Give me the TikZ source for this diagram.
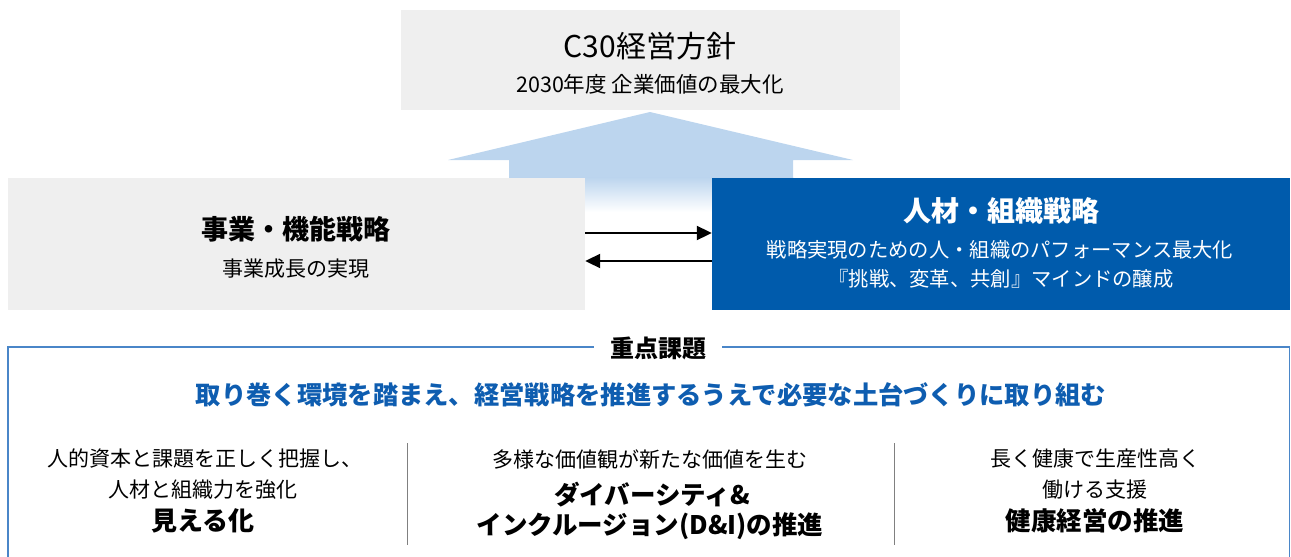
\documentclass[tikz,border=0pt]{standalone}
\usepackage{fontspec}
\setmainfont{Noto Sans CJK JP}
\usetikzlibrary{arrows.meta,calc}
\definecolor{boxgray}{HTML}{EFEFEF}
\definecolor{deepblue}{HTML}{005BAC}
\definecolor{paleblue}{HTML}{BCD5EE}
\definecolor{framecol}{HTML}{4A86C8}
\definecolor{textblue}{HTML}{0E5DB0}
\definecolor{divgray}{HTML}{808080}
\newcommand{\fs}[1]{\fontsize{#1}{#1}\selectfont}
\tikzset{
  graybox/.style={fill=boxgray, draw=none, inner sep=0pt},
  bluebox/.style={fill=deepblue, draw=none, inner sep=0pt},
  txt/.style={inner sep=0pt, anchor=center, align=center},
  linkarrow/.style={line width=2pt, -{Triangle[length=15pt,width=14pt]}},
}
\begin{document}
\begin{tikzpicture}[x=1pt,y=-1pt]
\useasboundingbox (0,0) rectangle (1291,557);
% big up arrow
\fill[paleblue] (509,178) -- (509,160) -- (448,160) -- (650,112) -- (853,160) -- (793,160) -- (793,178) -- cycle;
\shade[top color=paleblue, bottom color=white] (509,177.5) rectangle (793,212);
% top box
\node[graybox, minimum width=499pt, minimum height=100pt] (top) at (650.5,60) {};
\node[txt, font=\fs{30}] (toptitle) at (650,46) {C30経営方針};
\node[txt, font=\fs{21.5}] (topsub) at (650,84) {2030年度 企業価値の最大化};
% left box
\node[graybox, minimum width=577pt, minimum height=132pt] (L) at (296.5,244) {};
\node[txt, font=\bfseries\fs{27}] (Ltitle) at (296,229) {事業・機能戦略};
\node[txt, font=\fs{21}] (Lsub) at (296,269) {事業成長の実現};
% right box
\node[bluebox, minimum width=578pt, minimum height=132pt] (R) at (1001,244) {};
\node[txt, font=\bfseries\fs{28}, text=white] (Rtitle) at (1001,211) {人材・組織戦略};
\node[txt, font=\fs{20.3}, text=white] (Rsub1) at (1000,250) {戦略実現のための人・組織のパフォーマンス最大化};
\node[txt, font=\fs{20.3}, text=white] (Rsub2) at (1001,279) {『挑戦、変革、共創』マインドの醸成};
% link arrows
\draw[linkarrow] ([yshift=11pt]L.east) -- ([yshift=11pt]R.west);
\draw[linkarrow] ([yshift=-17pt]R.west) -- ([yshift=-17pt]L.east);
% bottom frame
\begin{scope}
\clip (0,0) rectangle (1291,557);
\draw[framecol, line width=1.2pt] (8,347) rectangle (1289.5,600);
\end{scope}
\node[txt, fill=white, inner xsep=16pt, inner ysep=4pt, font=\bfseries\fs{24}] (focus) at (658,348) {重点課題};
\node[txt, font=\bfseries\fs{25.3}, text=textblue] (lead) at (651,395) {取り巻く環境を踏まえ、経営戦略を推進するうえで必要な土台づくりに取り組む};
% dividers
\coordinate (d1t) at (407,443); \coordinate (d1b) at (407,545);
\coordinate (d2t) at (894,443); \coordinate (d2b) at (894,545);
\draw[divgray, line width=1pt] (d1t) -- (d1b);
\draw[divgray, line width=1pt] (d2t) -- (d2b);
% column 1
\node[txt, font=\fs{21}] (c1a) at (205,459) {人的資本と課題を正しく把握し、};
\node[txt, font=\fs{21}] (c1b) at (203,490) {人材と組織力を強化};
\node[txt, font=\bfseries\fs{26}] (c1c) at (203,521) {見える化};
% column 2
\node[txt, font=\fs{21}] (c2a) at (650,459) {多様な価値観が新たな価値を生む};
\node[txt, font=\bfseries\fs{25.5}] (c2b) at (652,495) {ダイバーシティ\&};
\node[txt, font=\bfseries\fs{25.5}] (c2c) at (650,526) {インクルージョン(D\&I)の推進};
% column 3
\node[txt, font=\fs{21}] (c3a) at (1095,459) {長く健康で生産性高く};
\node[txt, font=\fs{21}] (c3b) at (1095,490) {働ける支援};
\node[txt, font=\bfseries\fs{25.5}] (c3c) at (1095,521) {健康経営の推進};
\end{tikzpicture}
\end{document}
